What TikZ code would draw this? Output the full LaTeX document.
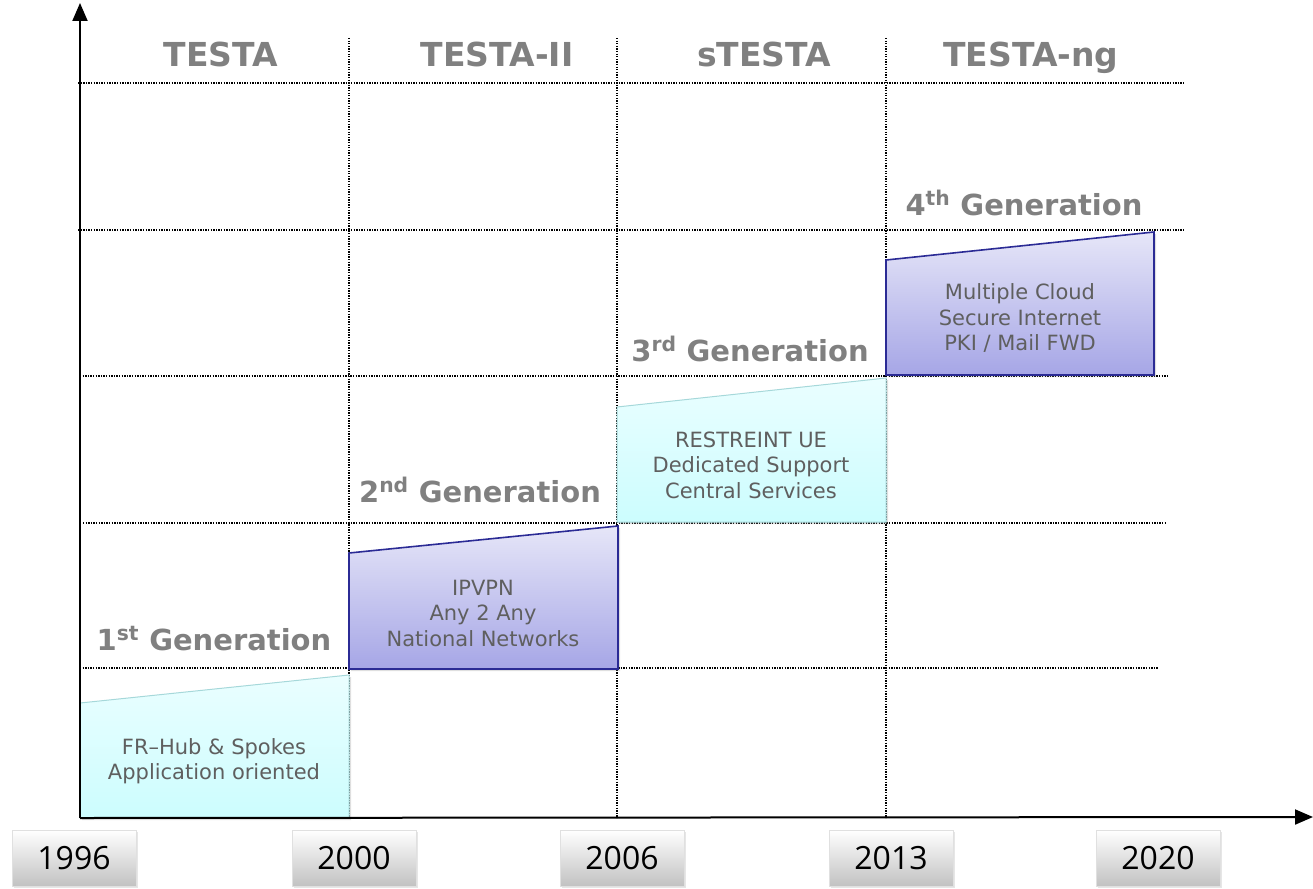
\documentclass[tikz,border=0pt]{standalone}
\usepackage{fontspec}
\setmainfont{DejaVu Sans}
\newfontfamily\yearfont{Open Sans}
\usetikzlibrary{arrows.meta,shadows}
\definecolor{cyanTop}{HTML}{EAFEFF}
\definecolor{cyanBot}{HTML}{CCFDFE}
\definecolor{cyanEdge}{HTML}{A6D8DA}
\definecolor{purTop}{HTML}{E6E6F8}
\definecolor{purBot}{HTML}{A6A6E6}
\definecolor{purEdge}{HTML}{2B2B95}
\definecolor{txtGray}{HTML}{5F5F5F}
\definecolor{hdrGray}{HTML}{808080}
\tikzset{
  grid/.style={line width=1.3pt, dash pattern=on 1.3pt off 1.3pt, black},
  axis/.style={line width=2pt, -{Triangle[length=18pt,width=15pt]}},
  cyanshape/.style={top color=cyanTop, bottom color=cyanBot, draw=cyanEdge, line width=1pt,
     drop shadow={shadow xshift=2pt, shadow yshift=-2pt, opacity=0.25}},
  purshape/.style={top color=purTop, bottom color=purBot, draw=purEdge, line width=1.6pt,
     drop shadow={shadow xshift=2pt, shadow yshift=-2pt, opacity=0.25}},
  boxtext/.style={text=txtGray, font=\fontsize{21}{25.5}\selectfont, align=center, inner sep=0pt},
  gen/.style={text=hdrGray, font=\fontsize{29}{32}\selectfont\bfseries, inner sep=0pt, anchor=base},
  hdr/.style={text=hdrGray, font=\fontsize{33}{36}\selectfont\bfseries, inner sep=0pt, anchor=base},
  yearbox/.style={minimum width=124pt, minimum height=56pt, inner sep=0pt,
     top color=white, bottom color=black!24, draw=black!12, line width=0.8pt,
     drop shadow={shadow xshift=1.5pt, shadow yshift=-1.5pt, opacity=0.2},
     font=\yearfont\fontsize{32}{34}\selectfont, text=black}
}
\begin{document}
\begin{tikzpicture}[x=1pt,y=-1pt]
\useasboundingbox (0,0) rectangle (1313,888);
% grid lines
\draw[grid] (78,83) -- (1185,83);
\draw[grid] (78,230) -- (1185,230);
\draw[grid] (80,376) -- (1168,376);
\draw[grid] (83,523) -- (1165,523);
\draw[grid] (80,668) -- (1158,668);
\draw[grid] (349,38) -- (349,818);
\draw[grid] (617,38) -- (617,818);
\draw[grid] (886,38) -- (886,818);
% shapes
\path[cyanshape] (80,703) -- (349,675) -- (349,818) -- (80,818) -- cycle;
\path[purshape] (349,553) -- (618,526) -- (618,669) -- (349,669) -- cycle;
\path[cyanshape] (617,407) -- (886,378) -- (886,522) -- (617,522) -- cycle;
\path[purshape] (886,260) -- (1154,232) -- (1154,375) -- (886,375) -- cycle;
% axes
\coordinate (o) at (80,818);
\coordinate (ytip) at (80,3);
\coordinate (xtip) at (1313,817);
\draw[axis] (o) -- (ytip);
\draw[axis] (o) -- (xtip);
% box texts
\node[boxtext] (t1) at (214,761) {FR–Hub \& Spokes\\Application oriented};
\node[boxtext] (t2) at (483,613) {IPVPN\\Any 2 Any\\National Networks};
\node[boxtext] (t3) at (751,465) {RESTREINT UE\\Dedicated Support\\Central Services};
\node[boxtext] (t4) at (1020,318) {Multiple Cloud\\Secure Internet\\PKI / Mail FWD};
% generation labels
\node[gen] (g1) at (214,650) {1\textsuperscript{st} Generation};
\node[gen] (g2) at (480,502) {2\textsuperscript{nd} Generation};
\node[gen] (g3) at (750,361) {3\textsuperscript{rd} Generation};
\node[gen] (g4) at (1024,215) {4\textsuperscript{th} Generation};
% headers
\node[hdr] (h1) at (221,67) {TESTA};
\node[hdr] (h2) at (497,67) {TESTA-II};
\node[hdr] (h3) at (764,67) {sTESTA};
\node[hdr] (h4) at (1031,67) {TESTA-ng};
% years
\node[yearbox] (y1) at (74,858) {1996};
\node[yearbox] (y2) at (354,858) {2000};
\node[yearbox] (y3) at (622,858) {2006};
\node[yearbox] (y4) at (891,858) {2013};
\node[yearbox] (y5) at (1158,858) {2020};
\end{tikzpicture}
\end{document}
